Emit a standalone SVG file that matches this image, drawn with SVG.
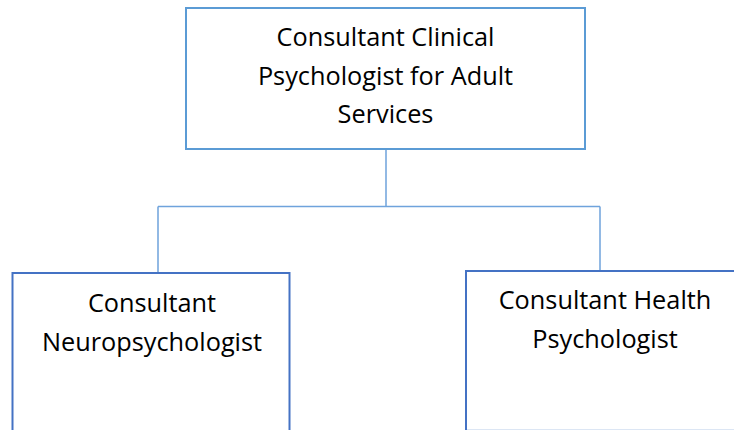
<svg xmlns="http://www.w3.org/2000/svg" width="734" height="430" viewBox="0 0 734 430">
<style>
.t{font-family:"Open Sans","Liberation Sans",sans-serif;font-size:25.3px;fill:#000;text-anchor:middle}
.conn{stroke:#6FA3DC;stroke-width:1.5;fill:none}
</style>
<rect width="734" height="430" fill="#fff"/>
<g id="connectors">
<path class="conn" d="M386 149V206.5M158 206.5H600M158 206.5V272M600 206.5V271"/>
</g>
<g id="top">
<rect x="186" y="8" width="399" height="141" fill="#fff" stroke="#5B9BD5" stroke-width="2"/>
<text class="t" x="385.5" y="46">Consultant Clinical</text>
<text class="t" x="385.5" y="84.5">Psychologist for Adult</text>
<text class="t" x="385.5" y="123">Services</text>
</g>
<g id="left">
<rect x="12.5" y="273" width="277" height="170" fill="#fff" stroke="#4472C4" stroke-width="2"/>
<text class="t" x="152" y="312">Consultant</text>
<text class="t" x="152" y="351">Neuropsychologist</text>
</g>
<g id="right">
<rect x="466" y="271" width="290" height="170" fill="#fff" stroke="#4472C4" stroke-width="2"/>
<line x1="467" y1="429.5" x2="734" y2="429.5" stroke="#DCE6F4" stroke-width="1"/>
<text class="t" x="605" y="309">Consultant Health</text>
<text class="t" x="605" y="348">Psychologist</text>
</g>
</svg>
